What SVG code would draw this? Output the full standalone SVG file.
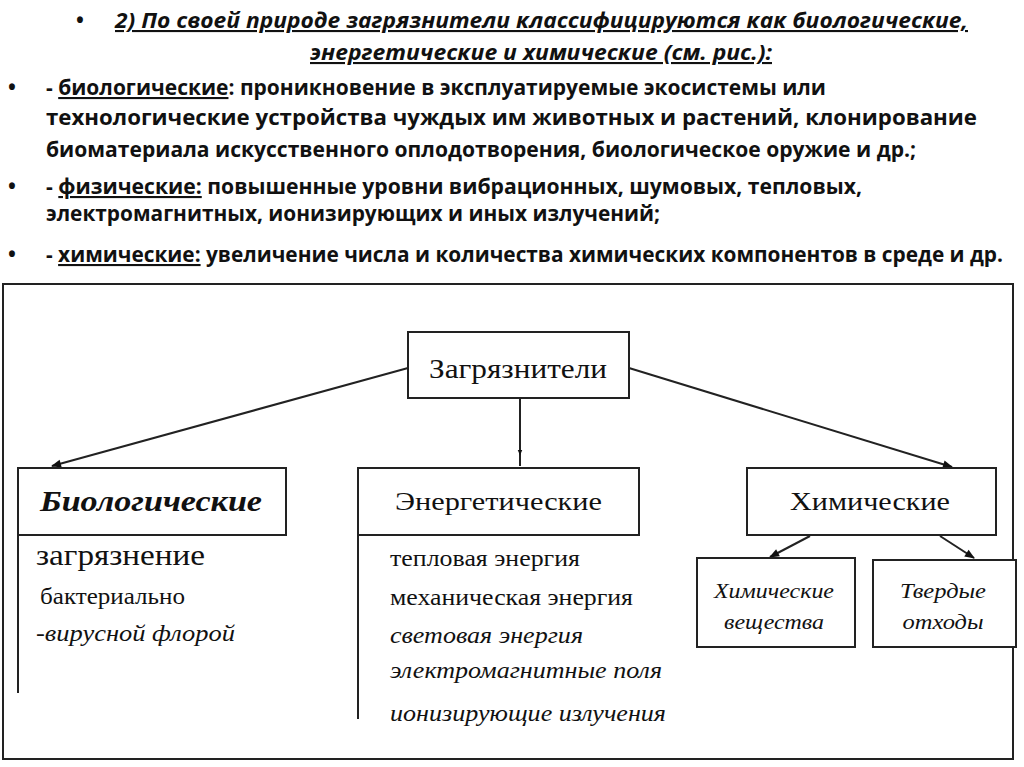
<svg xmlns="http://www.w3.org/2000/svg" width="1024" height="767" viewBox="0 0 1024 767">
<defs>
<style>
.hd{font-family:"Open Sans","Liberation Sans",sans-serif;font-weight:bold;font-size:21px;fill:#111}
.ti{font-style:italic;text-decoration:underline}
.u{text-decoration:underline}
.tm{font-family:"Liberation Serif","DejaVu Serif",serif;fill:#111}
.box{fill:#fff;stroke:#222;stroke-width:2}
.ln{stroke:#222;stroke-width:2;fill:none}
</style>
<marker id="ah" viewBox="0 0 10 10" refX="9" refY="5" markerWidth="6" markerHeight="6" orient="auto" markerUnits="userSpaceOnUse">
<path d="M0,1 L10,5 L0,9 z" fill="#111"/>
</marker>
<marker id="ahs" viewBox="0 0 10 10" refX="9" refY="5" markerWidth="14" markerHeight="10" orient="auto" markerUnits="userSpaceOnUse">
<path d="M0,1 L10,5 L0,9 z" fill="#111"/>
</marker>
</defs>
<rect width="1024" height="767" fill="#fff"/>
<g id="header">
<text class="hd" x="76" y="28" font-size="16">•</text>
<text class="hd ti" x="115" y="28" textLength="853" lengthAdjust="spacingAndGlyphs">2) По своей природе  загрязнители классифицируются как биологические,</text>
<text class="hd ti" x="310" y="60" textLength="462" lengthAdjust="spacingAndGlyphs">энергетические и химические (см. рис.):</text>
<text class="hd" x="8" y="95" font-size="16">•</text>
<text class="hd" x="46" y="95" textLength="780" lengthAdjust="spacingAndGlyphs">- <tspan class="u">биологические</tspan>: проникновение в эксплуатируемые экосистемы или</text>
<text class="hd" x="46" y="125" textLength="931" lengthAdjust="spacingAndGlyphs">технологические устройства чуждых им животных и растений, клонирование</text>
<text class="hd" x="46" y="157" textLength="870" lengthAdjust="spacingAndGlyphs">биоматериала искусственного оплодотворения, биологическое  оружие и др.;</text>
<text class="hd" x="8" y="194" font-size="16">•</text>
<text class="hd" x="46" y="194" textLength="816" lengthAdjust="spacingAndGlyphs">- <tspan class="u">физические:</tspan> повышенные уровни вибрационных, шумовых, тепловых,</text>
<text class="hd" x="46" y="221" textLength="614" lengthAdjust="spacingAndGlyphs">электромагнитных, ионизирующих и иных излучений;</text>
<text class="hd" x="8" y="262" font-size="16">•</text>
<text class="hd" x="46" y="262" textLength="957" lengthAdjust="spacingAndGlyphs">- <tspan class="u">химические:</tspan> увеличение числа и количества химических компонентов в среде и др.</text>
</g>
<rect id="frame" x="3" y="284" width="1010" height="475" fill="none" stroke="#222" stroke-width="2"/>
<g id="connectors">
<line class="ln" x1="408" y1="368" x2="52" y2="466" marker-end="url(#ahs)"/>
<line class="ln" x1="629" y1="368" x2="952" y2="467" marker-end="url(#ahs)"/>
<line class="ln" x1="520" y1="398" x2="520" y2="466"/>
<line class="ln" x1="520" y1="420" x2="520" y2="455" marker-end="url(#ah)"/>
<line class="ln" x1="810" y1="536" x2="770" y2="557" marker-end="url(#ahs)"/>
<line class="ln" x1="940" y1="536" x2="974" y2="558" marker-end="url(#ahs)"/>
<line class="ln" x1="18" y1="535" x2="18" y2="693"/>
<line class="ln" x1="358" y1="535" x2="358" y2="719"/>
</g>
<g id="n-root">
<rect class="box" x="408" y="332" width="221" height="66"/>
<text class="tm" x="518" y="378" font-size="28" text-anchor="middle" textLength="178" lengthAdjust="spacingAndGlyphs">Загрязнители</text>
</g>
<g id="n-bio">
<rect class="box" x="18" y="468" width="268" height="67"/>
<text class="tm" x="40" y="511" font-size="30" font-weight="bold" font-style="italic" textLength="222" lengthAdjust="spacingAndGlyphs">Биологические</text>
<text class="tm" x="36" y="565" font-size="30" textLength="169" lengthAdjust="spacingAndGlyphs">загрязнение</text>
<text class="tm" x="40" y="604" font-size="23" textLength="145" lengthAdjust="spacingAndGlyphs">бактериально</text>
<text class="tm" x="36" y="641" font-size="23" font-style="italic" textLength="199" lengthAdjust="spacingAndGlyphs">-вирусной флорой</text>
</g>
<g id="n-energy">
<rect class="box" x="358" y="468" width="281" height="67"/>
<text class="tm" x="395" y="510" font-size="26" textLength="207" lengthAdjust="spacingAndGlyphs">Энергетические</text>
<text class="tm" x="390" y="566" font-size="23" textLength="190" lengthAdjust="spacingAndGlyphs">тепловая энергия</text>
<text class="tm" x="390" y="605" font-size="23" textLength="243" lengthAdjust="spacingAndGlyphs">механическая энергия</text>
<text class="tm" x="390" y="643" font-size="23" font-style="italic" textLength="193" lengthAdjust="spacingAndGlyphs">световая энергия</text>
<text class="tm" x="390" y="678" font-size="23" font-style="italic" textLength="272" lengthAdjust="spacingAndGlyphs">электромагнитные поля</text>
<text class="tm" x="390" y="721" font-size="23" font-style="italic" textLength="276" lengthAdjust="spacingAndGlyphs">ионизирующие излучения</text>
</g>
<g id="n-chem">
<rect class="box" x="747" y="468" width="249" height="67"/>
<text class="tm" x="790" y="510" font-size="26" textLength="160" lengthAdjust="spacingAndGlyphs">Химические</text>
</g>
<g id="n-chemsub">
<rect class="box" x="697" y="558" width="158" height="89"/>
<text class="tm" x="774" y="598" font-size="22" font-style="italic" text-anchor="middle" textLength="120" lengthAdjust="spacingAndGlyphs">Химические</text>
<text class="tm" x="774" y="629" font-size="22" font-style="italic" text-anchor="middle" textLength="100" lengthAdjust="spacingAndGlyphs">вещества</text>
</g>
<g id="n-solid">
<rect class="box" x="873" y="560" width="143" height="87"/>
<text class="tm" x="943" y="598" font-size="22" font-style="italic" text-anchor="middle" textLength="86" lengthAdjust="spacingAndGlyphs">Твердые</text>
<text class="tm" x="943" y="629" font-size="22" font-style="italic" text-anchor="middle" textLength="81" lengthAdjust="spacingAndGlyphs">отходы</text>
</g>
</svg>
